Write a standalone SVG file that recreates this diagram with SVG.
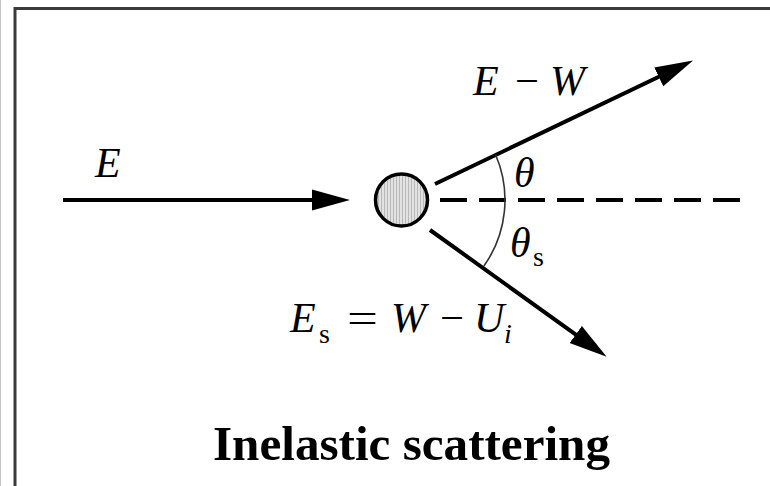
<svg xmlns="http://www.w3.org/2000/svg" width="770" height="486" viewBox="0 0 770 486">
<defs>
<style>
.frame{stroke:#3a3a3a;stroke-width:3;fill:none}
.line{stroke:#000;stroke-width:4;fill:none}
.dash{stroke:#000;stroke-width:4;stroke-dasharray:27 12;fill:none}
.arc{stroke:#333;stroke-width:1.6;fill:none}
.math{font-family:"Liberation Serif","Times New Roman",serif;font-style:italic;font-size:42px;fill:#000}
.rm{font-family:"Liberation Serif","Times New Roman",serif;font-size:42px;fill:#000}
.sub{font-family:"Liberation Serif","Times New Roman",serif;font-size:28px;fill:#000}
.subi{font-family:"Liberation Serif","Times New Roman",serif;font-style:italic;font-size:28px;fill:#000}
.title{font-family:"Liberation Serif","Times New Roman",serif;font-weight:bold;font-size:49px;fill:#000}
</style>
<marker id="ah" markerUnits="userSpaceOnUse" markerWidth="40" markerHeight="24" viewBox="0 -12 40 24" refX="28" refY="0" orient="auto">
<path d="M0,-10.5 L38,0 L0,10.5 Z" fill="#000"/>
</marker>
<pattern id="hatch" patternUnits="userSpaceOnUse" width="3" height="4">
<rect width="3" height="4" fill="#e2e2e2"/>
<rect width="1" height="4" fill="#b8b8b8"/>
</pattern>
</defs>
<rect width="770" height="486" fill="#fff"/>
<line x1="0.5" y1="0" x2="0.5" y2="486" stroke="#c4c4c4" stroke-width="1"/>
<path class="frame" d="M15,486 V8.5 H770"/>
<g id="connectors">
<line id="incident" class="line" x1="63" y1="200" x2="340" y2="200" marker-end="url(#ah)"/>
<line id="scattered" class="line" x1="435" y1="184" x2="684" y2="64.8" marker-end="url(#ah)"/>
<line id="secondary" class="line" x1="430" y1="230" x2="598.5" y2="350.8" marker-end="url(#ah)"/>
<line id="axis" class="dash" x1="440" y1="200" x2="741" y2="200"/>
<path id="angle-arc" class="arc" d="M495.6,154.7 A114,114 0 0 1 483.9,266"/>
</g>
<g id="target">
<circle cx="401.5" cy="200" r="26" fill="url(#hatch)" stroke="#000" stroke-width="3.5"/>
</g>
<g id="label-E">
<text class="math" x="95" y="177">E</text>
</g>
<g id="label-EW">
<text class="math" x="473" y="95">E</text>
<text class="rm" x="515" y="95" textLength="24" lengthAdjust="spacingAndGlyphs">−</text>
<text class="math" x="550" y="95">W</text>
</g>
<g id="label-theta">
<text class="math" x="514" y="187">θ</text>
</g>
<g id="label-theta-s">
<text class="math" x="510" y="257">θ</text>
<text class="sub" x="533" y="266">s</text>
</g>
<g id="label-Es">
<text class="math" x="290" y="332">E</text>
<text class="sub" x="319" y="343">s</text>
<text class="rm" x="347" y="332" textLength="31" lengthAdjust="spacingAndGlyphs">=</text>
<text class="math" x="391" y="332">W</text>
<text class="rm" x="440" y="332" textLength="24" lengthAdjust="spacingAndGlyphs">−</text>
<text class="math" x="474" y="332">U</text>
<text class="subi" x="504" y="343">i</text>
</g>
<g id="title">
<text class="title" x="213" y="460" textLength="397" lengthAdjust="spacingAndGlyphs">Inelastic scattering</text>
</g>
</svg>
